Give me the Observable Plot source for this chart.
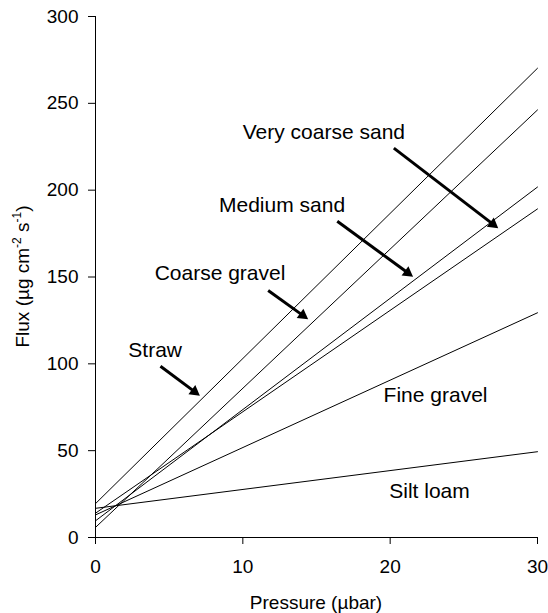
<!DOCTYPE html>
<html>
<head>
<meta charset="utf-8">
<script src="https://cdn.jsdelivr.net/npm/d3@7"></script>
<script src="https://cdn.jsdelivr.net/npm/@observablehq/plot@0.6"></script>
<style>
  html, body { margin: 0; padding: 0; background: #fff; }
  #chart { width: 548px; height: 613px; }
</style>
</head>
<body>
<div id="chart"></div>
<script>
// ---- data ----
const pressureRange = [0, 30];
const materials = ["Straw", "Coarse gravel", "Medium sand", "Very coarse sand", "Fine gravel", "Silt loam"];
const fluxAt0 = [19.5, 5.8, 9.6, 14.0, 13.0, 16.8];
const fluxAt30 = [270.2, 246.2, 201.8, 189.2, 129.4, 49.4];

const xTicks = [0, 10, 20, 30];
const yTicks = [0, 50, 100, 150, 200, 250, 300];

// annotation labels (data units)
const labelText = ["Very coarse sand", "Medium sand", "Coarse gravel", "Straw", "Fine gravel", "Silt loam"];
const labelX = [15.5, 12.66, 8.45, 4.05, 23.08, 22.67];
const labelY = [233.4, 191.2, 152.2, 108.1, 81.8, 26.5];

// annotation arrows (data units): start -> tip
const arrowX1 = [20.25, 16.41, 11.72, 4.41];
const arrowY1 = [224.2, 182.1, 142.2, 98.6];
const arrowX2 = [27.38, 21.60, 14.48, 7.13];
const arrowY2 = [177.8, 149.9, 125.4, 81.4];

// ---- build tables ----
const lines = [];
materials.forEach((m, i) => {
  lines.push({material: m, pressure: pressureRange[0], flux: fluxAt0[i]});
  lines.push({material: m, pressure: pressureRange[1], flux: fluxAt30[i]});
});
const labels = labelText.map((t, i) => ({text: t, x: labelX[i], y: labelY[i]}));

const W = 548, H = 613, mL = 95, mR = 11, mT = 16, mB = 76;
const xs = d3.scaleLinear().domain([0, 30]).range([mL, W - mR]);
const ys = d3.scaleLinear().domain([0, 300]).range([H - mB, mT]);

const headBack = 7.5; // px from tip to triangle centroid
const arrows = arrowX1.map((x1, i) => {
  const px1 = xs(x1), py1 = ys(arrowY1[i]), px2 = xs(arrowX2[i]), py2 = ys(arrowY2[i]);
  const dx = px2 - px1, dy = py2 - py1, len = Math.hypot(dx, dy);
  const ux = dx / len, uy = dy / len;
  const cx = px2 - ux * headBack, cy = py2 - uy * headBack;
  const sx = px2 - ux * 10, sy = py2 - uy * 10;
  return {
    x1, y1: arrowY1[i],
    xs: xs.invert(sx), ys: ys.invert(sy),
    xc: xs.invert(cx), yc: ys.invert(cy),
    rotate: Math.atan2(dx, -dy) * 180 / Math.PI
  };
});

const font = "'Liberation Sans', Arial, Helvetica, sans-serif";

const chart = Plot.plot({
  width: W, height: H,
  marginLeft: mL, marginRight: mR, marginTop: mT, marginBottom: mB,
  style: {fontFamily: font, fontSize: "19px", color: "#000", background: "#fff"},
  x: {domain: [0, 30]},
  y: {domain: [0, 300]},
  marks: [
    Plot.axisX({ticks: xTicks, tickSize: 7, tickPadding: 15, label: null, fontSize: 19, stroke: "#000", strokeOpacity: 1}),
    Plot.axisY({ticks: yTicks, tickSize: 7, tickPadding: 10, label: null, fontSize: 19, stroke: "#000", strokeOpacity: 1}),
    Plot.ruleX([0], {stroke: "#000", strokeWidth: 1}),
    Plot.ruleY([0], {stroke: "#000", strokeWidth: 1}),
    Plot.line(lines, {x: "pressure", y: "flux", z: "material", stroke: "#000", strokeWidth: 1}),
    Plot.link(arrows, {x1: "x1", y1: "y1", x2: "xs", y2: "ys", stroke: "#000", strokeWidth: 3}),
    Plot.dot(arrows, {x: "xc", y: "yc", symbol: "triangle2", r: 5.5, fill: "#000", stroke: "none", rotate: "rotate"}),
    Plot.text(labels, {x: "x", y: "y", text: "text", fontSize: 21, fill: "#000"})
  ]
});

const svg = d3.select(chart);
// axis titles
svg.append("text")
  .attr("x", (mL + W - mR) / 2).attr("y", 609)
  .attr("text-anchor", "middle").attr("font-size", 19).attr("font-family", font).attr("fill", "#000")
  .text("Pressure (\u00b5bar)");

const yt = svg.append("text")
  .attr("transform", "translate(29," + ((mT + H - mB) / 2) + ") rotate(-90)")
  .attr("text-anchor", "middle").attr("font-size", 19).attr("font-family", font).attr("fill", "#000");
yt.append("tspan").text("Flux (\u00b5g cm");
yt.append("tspan").attr("dy", -8).attr("font-size", 12).text("-2");
yt.append("tspan").attr("dy", 8).text(" s");
yt.append("tspan").attr("dy", -8).attr("font-size", 12).text("-1");
yt.append("tspan").attr("dy", 8).text(")");

document.getElementById("chart").appendChild(chart);
</script>
</body>
</html>
